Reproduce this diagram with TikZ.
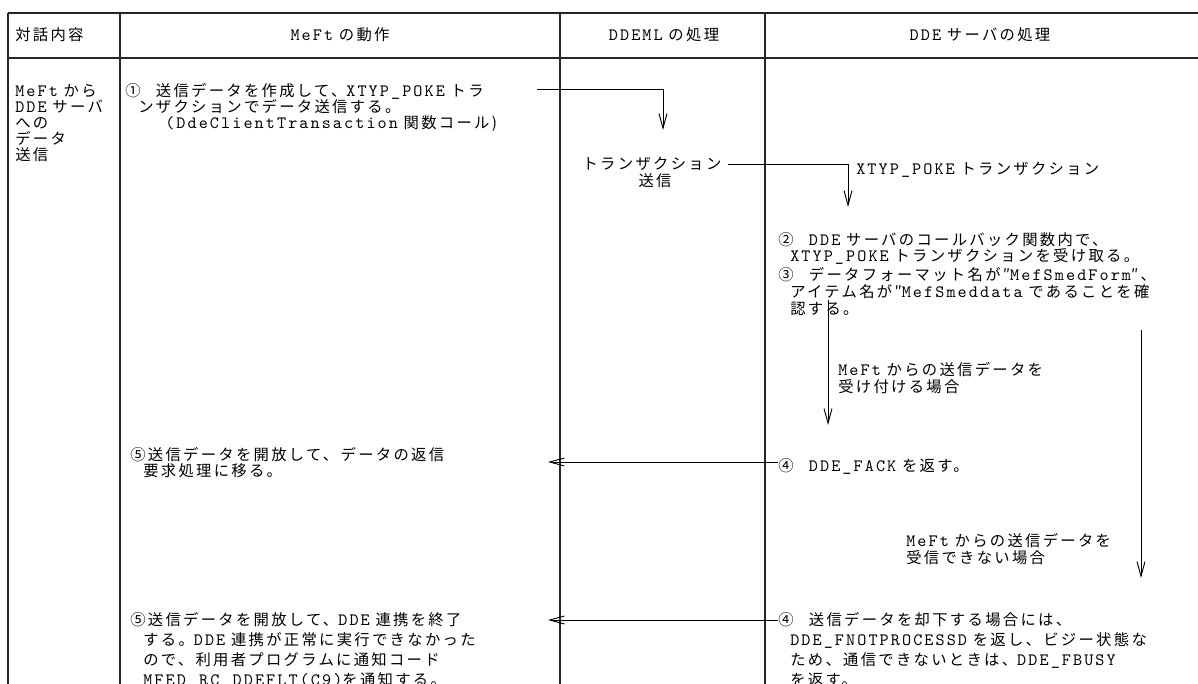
\documentclass[tikz,border=0pt]{standalone}
\usepackage{fontspec}
\setmainfont{Noto Sans CJK JP}[LetterSpace=15]
\setmonofont{lmmono10-regular.otf}[LetterSpace=12]
\usetikzlibrary{arrows.meta}
\newcommand\mono[1]{{\ttfamily\fontsize{13pt}{14pt}\selectfont #1}}
\begin{document}
\begin{tikzpicture}[x=0.75pt,y=-0.75pt,
  font=\fontsize{11.5pt}{14pt}\selectfont,
  rule/.style={line width=0.9pt,draw=black!85},
  flow/.style={line width=0.7pt,-{Straight Barb[length=11pt,width=6pt]}},
  txt/.style={anchor=base west,inner sep=0pt},
  hdr/.style={anchor=base,inner sep=0pt}]
\useasboundingbox (0,0) rectangle (1198,684);
\clip (0,0) rectangle (1198,684);
% table rules
\coordinate (tl) at (8,13);
\coordinate (tr) at (1198,13);
\coordinate (hl) at (8,58);
\coordinate (hr) at (1198,58);
\draw[rule] (tl) -- (tr);
\draw[rule] (hl) -- (hr);
\foreach \x/\n in {8/a,120/b,560/c,765/d}{
  \coordinate (v\n t) at (\x,13);
  \coordinate (v\n b) at (\x,690);
  \draw[rule] (v\n t) -- (v\n b);
}
% headers
\node[txt] (h1) at (15,41) {対話内容};
\node[hdr] (h2) at (340,41) {\mono{MeFt} の動作};
\node[hdr] (h3) at (664,41) {\mono{DDEML} の処理};
\node[hdr] (h4) at (980,41) {\mono{DDE} サーバの処理};
% column 1
\node[txt] (r1) at (15,97) {\mono{MeFt} から};
\node[txt] (r2) at (15,113) {\mono{DDE} サーバ};
\node[txt] (r3) at (15,129) {への};
\node[txt] (r4) at (15,145) {データ};
\node[txt] (r5) at (15,161) {送信};
% column 2, step 1
\node[txt] (s1a) at (125,97) {①\hspace{1em}送信データを作成して、\mono{XTYP\_POKE} トラ};
\node[txt] (s1b) at (138,113) {ンザクションでデータ送信する。};
\node[txt] (s1c) at (165,129) {\mono{(DdeClientTransaction} 関数コール)};
% DDEML
\node[hdr] (m1) at (652,170) {トランザクション};
\node[hdr] (m2) at (655,187) {送信};
% server
\node[txt] (x1) at (856,175) {\mono{XTYP\_POKE} トランザクション};
\node[txt] (s2a) at (778,245) {②\hspace{1em}\mono{DDE} サーバのコールバック関数内で、};
\node[txt] (s2b) at (790,262) {\mono{XTYP\_POKE} トランザクションを受け取る。};
\node[txt] (s3a) at (778,280) {③\hspace{1em}データフォーマット名が″\mono{MefSmedForm}″、};
\node[txt] (s3b) at (790,297) {アイテム名が″\mono{MefSmeddata} であることを確};
\node[txt] (s3c) at (790,314) {認する。};
\node[txt] (ok1) at (838,375) {\mono{MeFt} からの送信データを};
\node[txt] (ok2) at (838,392) {受け付ける場合};
\node[txt] (s4a) at (778,471) {④\hspace{1em}\mono{DDE\_FACK} を返す。};
\node[txt] (ng1) at (906,546) {\mono{MeFt} からの送信データを};
\node[txt] (ng2) at (906,563) {受信できない場合};
\node[txt] (s4b) at (778,625) {④\hspace{1em}送信データを却下する場合には、};
\node[txt] (s4c) at (790,645) {\mono{DDE\_FNOTPROCESSD} を返し、ビジー状態な};
\node[txt] (s4d) at (790,665) {ため、通信できないときは、\mono{DDE\_FBUSY}};
\node[txt] (s4e) at (790,685) {を返す。};
% MeFt results
\node[txt] (s5a) at (130,460) {⑤送信データを開放して、データの返信};
\node[txt] (s5b) at (143,476) {要求処理に移る。};
\node[txt] (s6a) at (130,625) {⑤送信データを開放して、\mono{DDE} 連携を終了};
\node[txt] (s6b) at (143,645) {する。\mono{DDE} 連携が正常に実行できなかった};
\node[txt] (s6c) at (143,665) {ので、利用者プログラムに通知コード};
\node[txt] (s6d) at (143,685) {\mono{MFED\_RC\_DDEFLT(C9)}を通知する。};
% connectors
\coordinate (a1s) at (537,89);
\coordinate (a1e) at (663,130);
\draw[flow] (a1s) -| (a1e);
\coordinate (a2e) at (848,207);
\draw[flow] ([xshift=5]m1.east) -| (a2e);
\coordinate (a3s) at (828,300);
\coordinate (a3e) at (828,425);
\draw[flow] (a3s) -- (a3e);
\coordinate (a4s) at (1141,330);
\coordinate (a4e) at (1141,578);
\draw[flow] (a4s) -- (a4e);
\coordinate (a5e) at (548,462);
\draw[flow] (s4a.west |- a5e) -- (a5e);
\coordinate (a6e) at (548,620);
\draw[flow] (s4b.west |- a6e) -- (a6e);
\end{tikzpicture}
\end{document}
